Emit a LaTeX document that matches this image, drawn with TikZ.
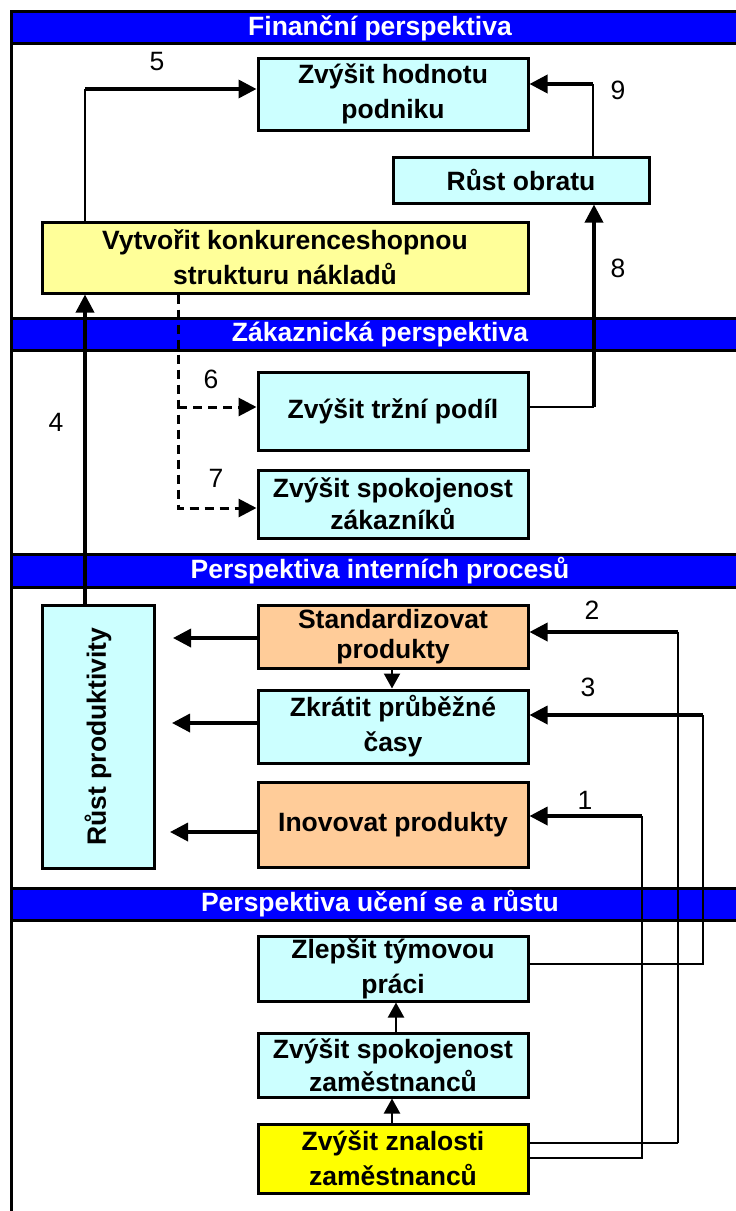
\documentclass[tikz,border=0pt]{standalone}
\usepackage{fontspec}
\setmainfont{Liberation Sans}
\usetikzlibrary{arrows.meta}
\definecolor{cyanbox}{HTML}{CCFFFF}
\definecolor{ltyellow}{HTML}{FFFF99}
\definecolor{orangebox}{HTML}{FFCC99}
\definecolor{yelbox}{HTML}{FFFF00}
\definecolor{hdrblue}{HTML}{0000FF}
\begin{document}
\begin{tikzpicture}[x=1pt,y=-1pt,
  box/.style={draw, line width=3pt, inner sep=0pt, align=center, font=\fontsize{26.5}{35}\selectfont\bfseries},
  hdrbar/.style={draw, line width=3pt, fill=hdrblue},
  hdrtext/.style={text=white, font=\fontsize{26.5}{30}\selectfont\bfseries, inner sep=0pt},
  lab/.style={font=\fontsize{26.5}{30}\selectfont, inner sep=0pt},
  thinline/.style={line width=1.4pt},
  midline/.style={line width=2.2pt},
  arr/.style={line width=3.5pt, -{Triangle[length=18pt,width=18pt]}},
  smallarr/.style={line width=2.2pt, -{Triangle[length=15pt,width=16pt]}},
  dasharr/.style={line width=3pt, dash pattern=on 9pt off 6pt, -{Triangle[length=18pt,width=18pt]}}]
\useasboundingbox (0,0) rectangle (736,1211);
\clip (0,0) rectangle (736,1211);
% frame
\draw[line width=3pt] (11,1240) -- (11,11) -- (760,11);
% headers
\draw[hdrbar] (11,11) rectangle (760,43);
\node[hdrtext] (h1) at (380,28) {Finanční perspektiva};
\draw[hdrbar] (11,318.5) rectangle (760,350.5);
\node[hdrtext] (h2) at (380,335) {Zákaznická perspektiva};
\draw[hdrbar] (11,554.5) rectangle (760,587.5);
\node[hdrtext] (h3) at (380,571) {Perspektiva interních procesů};
\draw[hdrbar] (11,888) rectangle (760,920);
\node[hdrtext] (h4) at (380,904) {Perspektiva učení se a růstu};
% boxes
\node[box, fill=cyanbox, minimum width=270pt, minimum height=72pt] (hod) at (393,94) {Zvýšit hodnotu\\podniku};
\node[box, fill=cyanbox, minimum width=256pt, minimum height=46pt] (obr) at (521,180) {Růst obratu};
\node[box, fill=ltyellow, minimum width=486pt, minimum height=71pt] (vyt) at (285,257.5) {Vytvořit konkurenceshopnou\\strukturu nákladů};
\node[box, fill=cyanbox, minimum width=270pt, minimum height=78pt] (trz) at (393,411) {Zvýšit tržní podíl};
\node[box, fill=cyanbox, minimum width=270pt, minimum height=68pt, font=\fontsize{26.5}{32}\selectfont\bfseries] (zak) at (393,504) {Zvýšit spokojenost\\zákazníků};
\node[box, fill=cyanbox, minimum width=112pt, minimum height=263pt] (rp) at (98,736.5) {};
\node[rotate=90, inner sep=0pt, font=\fontsize{26.5}{35}\selectfont\bfseries] (rptext) at (rp.center) {Růst produktivity};
\node[box, fill=orangebox, minimum width=270pt, minimum height=63pt, font=\fontsize{26.5}{30}\selectfont\bfseries] (std) at (393,636.5) {Standardizovat\\produkty};
\node[box, fill=cyanbox, minimum width=270pt, minimum height=73pt] (zkr) at (393,726.5) {Zkrátit průběžné\\časy};
\node[box, fill=orangebox, minimum width=270pt, minimum height=85pt] (ino) at (393,824.5) {Inovovat produkty};
\node[box, fill=cyanbox, minimum width=270pt, minimum height=65pt] (tym) at (393,968.5) {Zlepšit týmovou\\práci};
\node[box, fill=cyanbox, minimum width=270pt, minimum height=64pt, font=\fontsize{26.5}{33}\selectfont\bfseries] (spz) at (393,1065) {Zvýšit spokojenost\\zaměstnanců};
\node[box, fill=yelbox, minimum width=270pt, minimum height=69pt] (zna) at (393,1158.5) {Zvýšit znalosti\\zaměstnanců};
% connector 5
\coordinate (k5) at (85,89);
\draw[thinline] (vyt.north -| k5) -- (k5);
\draw[arr] (k5) -- (hod.west |- k5);
% connector 9
\coordinate (k9) at (593,84);
\draw[thinline] (obr.north -| k9) -- (k9);
\draw[arr] (k9) -- (hod.east |- k9);
% connector 8
\coordinate (k8) at (594,407);
\draw[thinline] (trz.east |- k8) -- (k8);
\draw[arr] (k8) -- (obr.south -| k8);
% connector 4
\coordinate (k4) at (85,0);
\draw[arr] (rp.north -| k4) -- (vyt.south -| k4);
% dashed 6, 7
\coordinate (d6) at (178,407);
\coordinate (d7) at (178,508);
\draw[dasharr] (vyt.south -| d7) -- (d7) -- (zak.west |- d7);
\draw[dasharr] (d6) -- (trz.west |- d6);
% internal arrows to Rust produktivity
\coordinate (e1) at (173,638);
\coordinate (e2) at (172,723);
\coordinate (e3) at (170,832);
\draw[arr] (std.west |- e1) -- (e1);
\draw[arr] (zkr.west |- e2) -- (e2);
\draw[arr] (ino.west |- e3) -- (e3);
% std -> zkr
\coordinate (s0) at (392,0);
\draw[smallarr] (std.south -| s0) -- (zkr.north -| s0);
% feedback 2
\coordinate (r2b) at (678,1143);
\coordinate (r2t) at (678,632);
\draw[midline] (zna.east |- r2b) -- (r2b);
\draw[thinline] (r2b) -- (r2t);
\draw[arr] (r2t) -- (std.east |- r2t);
% feedback 3
\coordinate (r3b) at (703,964);
\coordinate (r3t) at (703,715);
\draw[thinline] (tym.east |- r3b) -- (r3b) -- (r3t);
\draw[arr] (r3t) -- (zkr.east |- r3t);
% feedback 1
\coordinate (r1b) at (642,1158);
\coordinate (r1t) at (642,816);
\draw[thinline] (zna.east |- r1b) -- (r1b) -- (r1t);
\draw[arr] (r1t) -- (ino.east |- r1t);
% small arrows in learning
\coordinate (s1) at (396,0);
\coordinate (s2) at (392,0);
\draw[smallarr] (spz.north -| s1) -- (tym.south -| s1);
\draw[smallarr] (zna.north -| s2) -- (spz.south -| s2);
% labels
\node[lab] (l5) at (157,62) {5};
\node[lab] (l9) at (618,90) {9};
\node[lab] (l8) at (618,268) {8};
\node[lab] (l6) at (211,379) {6};
\node[lab] (l7) at (216,478) {7};
\node[lab] (l4) at (56,422) {4};
\node[lab] (l2) at (592,610) {2};
\node[lab] (l3) at (588,687) {3};
\node[lab] (l1) at (585,800) {1};
\end{tikzpicture}
\end{document}
